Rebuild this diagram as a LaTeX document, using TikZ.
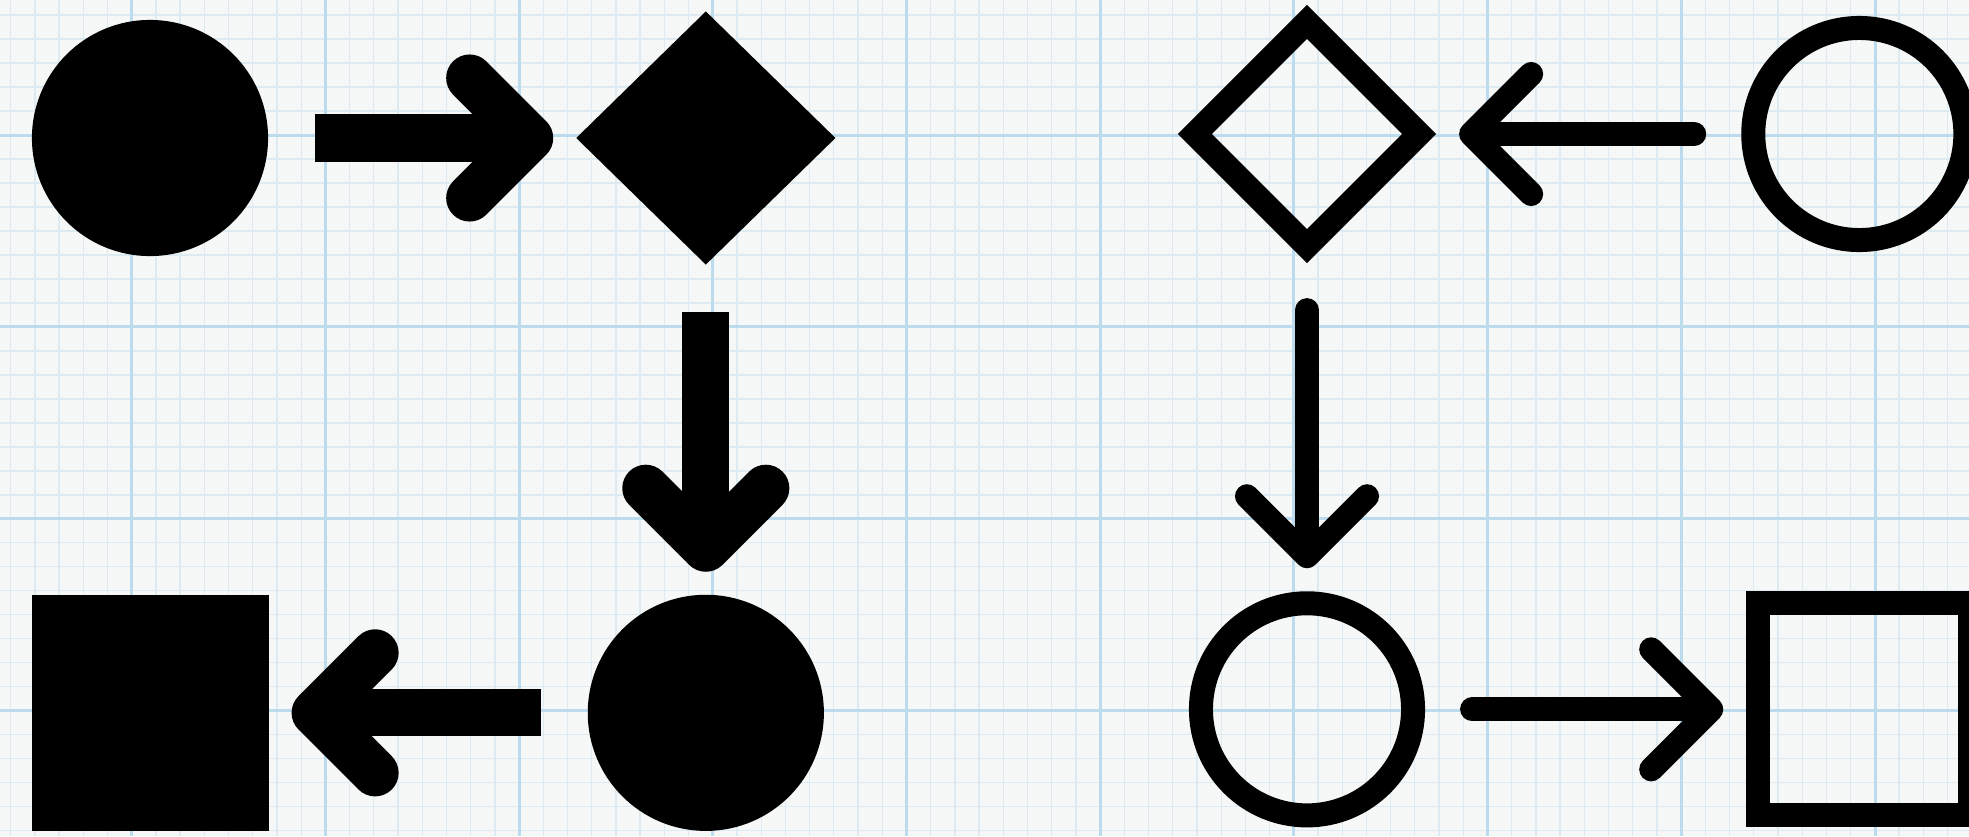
\documentclass[tikz,border=0pt]{standalone}
\usepackage{tikz}
\usetikzlibrary{shapes.geometric, arrows.meta, positioning}
\definecolor{paper}{RGB}{246,247,247}
\definecolor{gridminor}{RGB}{222,234,241}
\definecolor{gridmajor}{RGB}{188,219,236}
\tikzset{
  dot/.style={circle, fill=black, inner sep=0pt, outer sep=0pt, minimum size=2.36cm},
  dmd/.style={diamond, fill=black, inner sep=0pt, outer sep=0pt,
    minimum width=2.59cm, minimum height=2.53cm},
  blk/.style={rectangle, fill=black, inner sep=0pt, outer sep=0pt, minimum size=2.36cm},
  ring/.style={circle, draw=black, line width=0.24cm, inner sep=0pt, outer sep=0.12cm,
    minimum size=2.12cm},
  odmd/.style={diamond, draw=black, line width=0.24cm, inner sep=0pt, outer sep=0.12cm,
    minimum width=2.34cm, minimum height=2.34cm},
  obox/.style={rectangle, draw=black, line width=0.24cm, inner sep=0pt, outer sep=0.12cm,
    minimum size=2.12cm},
  fat/.style={line width=0.47cm, -{Straight Barb[round, length=0.6cm, width=1.2cm]},
    shorten <=0.47cm, shorten >=0.23cm},
  slim/.style={line width=0.24cm, line cap=round, -{Straight Barb[round, length=0.6cm, width=1.2cm]},
    shorten <=0.47cm, shorten >=0.23cm},
  minor/.style={gridminor, line width=0.013cm},
  major/.style={gridmajor, line width=0.03cm}
}
\begin{document}
\begin{tikzpicture}[x=0.01cm, y=-0.01cm]
  % graph paper
  \useasboundingbox (0,0) rectangle (1969,836);
  \fill[paper] (0,0) rectangle (1969,836);
  \foreach \i in {-5,...,76}
    \draw[minor] ({131.7+24.21*\i},0) -- ({131.7+24.21*\i},836);
  \foreach \j in {-5,...,29}
    \draw[minor] (0,{135+23.99*\j}) -- (1969,{135+23.99*\j});
  \foreach \i in {0,...,9}
    \draw[major] ({131.7+193.7*\i},0) -- ({131.7+193.7*\i},836);
  \foreach \j in {0,...,3}
    \draw[major] (0,{135+191.9*\j}) -- (1969,{135+191.9*\j});
  % filled shapes
  \node[dot] (c1) at (150,138) {};
  \node[dmd, right=3.08cm of c1] (d1) {};
  \node[dot, below=3.3cm of d1] (e1) {};
  \node[blk, left=3.19cm of e1] (s1) {};
  % outlined shapes
  \node[odmd] (d2) at (1307,134) {};
  \node[ring, right=3.05cm of d2] (c2) {};
  \node[ring, below=3.28cm of d2] (e2) {};
  \node[obox, right=3.21cm of e2] (s2) {};
  \draw[fat] (c1) -- (d1);
  \draw[fat] (d1) -- (e1);
  \draw[fat] (e1) -- (s1);
  \draw[slim] (c2) -- (d2);
  \draw[slim] (d2) -- (e2);
  \draw[slim] (e2) -- (s2);
\end{tikzpicture}
\end{document}
